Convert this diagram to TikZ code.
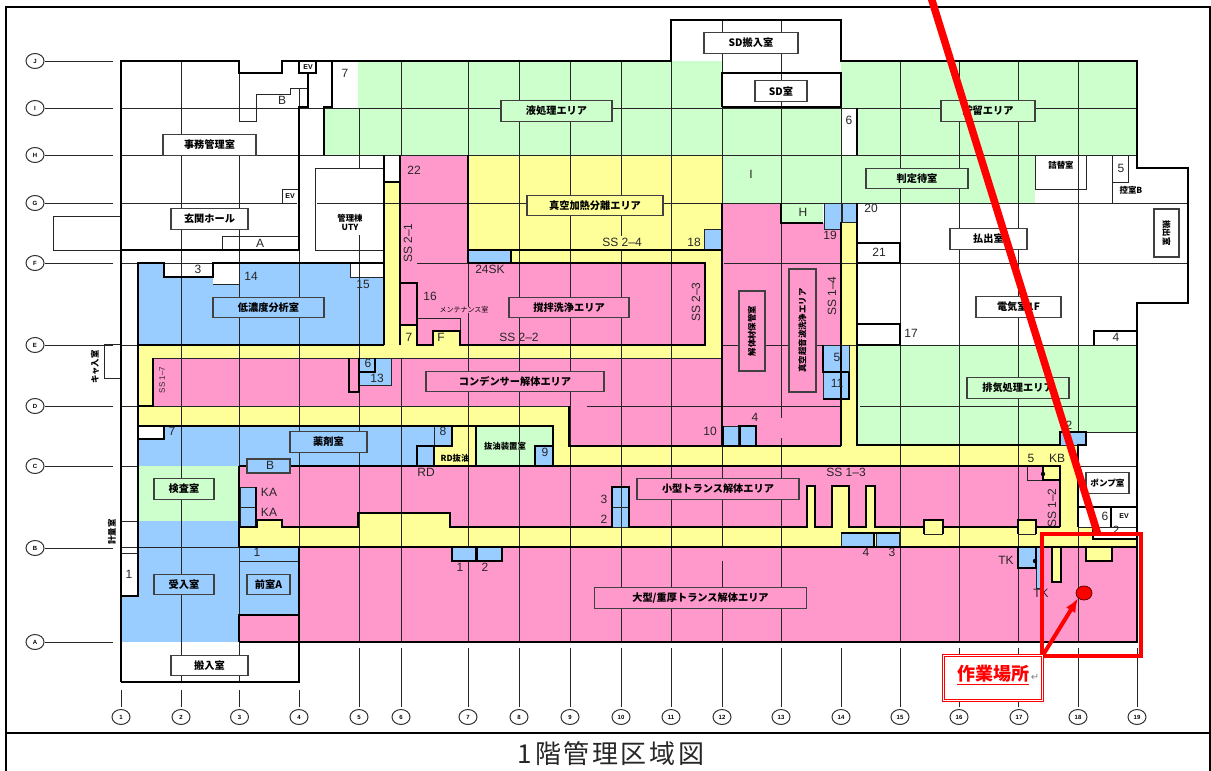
\documentclass[tikz,border=0pt]{standalone}
\usepackage{fontspec}
\setmainfont{Liberation Sans}
\newfontfamily\jpfont{Noto Sans CJK JP}
\usetikzlibrary{arrows.meta, shapes.geometric}
\definecolor{areapink}{HTML}{FF99CC}
\definecolor{areayellow}{HTML}{FFFF99}
\definecolor{areablue}{HTML}{99CCFF}
\definecolor{areagreen}{HTML}{CCFFCC}
\definecolor{workred}{HTML}{FF0000}

\begin{document}
\begin{tikzpicture}[
x=1pt, y=-1pt,
grid/.style={black!85, line width=0.9pt},
room/.style={black!85, line width=1pt},
wall/.style={black, line width=1.9pt, line join=miter},
bluebox/.style={fill=areablue, draw=black!85, line width=1pt},
roomlabel/.style={draw=black!75, line width=1.1pt, minimum height=20.5pt, inner sep=0pt,
  font=\jpfont\bfseries\fontsize{10.2}{11}\selectfont},
sidelabel/.style={inner sep=0pt, font=\jpfont\bfseries\fontsize{8.4}{9}\selectfont},
num/.style={inner sep=0pt, text=black!85, font=\fontsize{12}{13}\selectfont},
tag/.style={ellipse, draw=black!80, fill=white, line width=1pt, minimum width=18pt, minimum height=15pt,
  inner sep=0pt, font=\bfseries\fontsize{6}{7}\selectfont},
redarrow/.style={-{Latex[length=14pt, width=11pt]}, workred, line width=4pt}
]
\useasboundingbox (0,0) rectangle (1211,771);
\clip (0,0) rectangle (1211,771);

% frame and title
\draw[black, line width=1.6pt] (6,771) -- (6,7) -- (1210,7) -- (1210,771);
\draw[black, line width=1.6pt] (6,733) -- (1210,733);
\node[inner sep=0pt, text=black!85, font=\jpfont\fontsize{26}{28}\selectfont] (title) at (611,754) {1\kern2.6pt 階\kern2.6pt 管\kern2.6pt 理\kern2.6pt 区\kern2.6pt 域\kern2.6pt 図};

% areas
\foreach \a/\b/\c/\d in {358/61/671/108, 324/108/722/155, 671/61/722/108, 841/61/1137/155, 722/108/841/155, 722/155/1035/203, 781/203/823/223, 857/345/1137/432, 857/432/1060/445, 138/466/239/521, 477/427/553/466}
  \fill[areagreen] (\a,\b) rectangle (\c,\d);
\foreach \a/\b/\c/\d in {401/155/468/345, 468/263/705/345, 722/203/781/446, 781/223/841/446, 153/358/721/406, 569/406/722/446, 239/466/1060/527, 299/547/1137/642, 239/615/299/642}
  \fill[areapink] (\a,\b) rectangle (\c,\d);
\foreach \a/\b/\c/\d in {468/155/722/263, 705/263/722/345, 384/182/400/345, 138/345/722/358, 138/358/153/406, 138/406/569/426, 553/426/569/466, 434/426/476/466, 569/446/1078/466, 841/222/857/446, 1060/446/1078/547, 239/527/1060/547, 257/520/282/527, 358/513/450/527, 807/486/815/527, 832/486/849/527, 866/486/875/527, 924/520/943/527, 1018/520/1036/527, 1078/527/1137/547, 401/325/417/345, 433/331/460/345, 1052/547/1061/582, 1086/547/1112/561}
  \fill[areayellow] (\a,\b) rectangle (\c,\d);
\foreach \a/\b/\c/\d in {138/263/384/345, 138/426/434/466, 137/521/239/642, 121/596/137/642, 239/547/299/615}
  \fill[areablue] (\a,\b) rectangle (\c,\d);
\fill[white] (1093,527) rectangle (1137,539);
\fill[white] (164,263) rectangle (213,277);
\fill[white] (213,263) rectangle (239,284);
\fill[white] (350,263) rectangle (384,277);
\fill[white] (138,426) rectangle (164,439);
\fill[white] (722,73) rectangle (841,107);
\fill[white] (841,108) rectangle (857,155);
\fill[areayellow] (1027,466) rectangle (1060,480);
\fill[areapink] (1027,466) rectangle (1043,480);

% column and row lines
\foreach \x/\a/\b in {181/61/682, 239/61/121, 239/155/682, 299/250/547, 299/615/642, 359/108/168, 359/235/642, 401/61/155, 401/358/642, 468/61/155, 468/263/642, 519/61/642, 570/61/642, 621/61/236, 621/250/642, 671/61/642, 722/20/547, 722/561/642, 781/20/418, 781/438/642, 841/107/222, 900/61/642, 959/61/642, 1018/61/642, 1078/61/642,
  121/690/707, 181/690/707, 239/690/707, 299/690/707, 359/648/707, 401/648/707, 468/648/707, 519/648/707, 570/648/707, 621/648/707, 671/648/707, 722/648/707, 781/648/707, 841/648/707, 900/648/707, 959/648/707, 1018/648/707, 1078/648/707, 1137/648/707}
  \draw[grid] (\x,\a) -- (\x,\b);
\foreach \y/\a/\b in {108/121/1137, 155/121/1137, 203/121/297, 203/317/1188, 263/121/384, 263/417/468, 263/724/1188, 345/121/138, 345/722/1137, 406/121/138, 406/153/569, 406/587/841, 406/860/1137, 466/121/138, 466/1078/1137, 547/121/239, 358/153/721}
  \draw[grid] (\a,\y) -- (\b,\y);

% rooms in thin line
\draw[room] (239,121) -- (256,121) -- (256,94) -- (290,94) -- (290,88) -- (308,88);
\draw[room] (299,88) -- (299,107);
\draw[room] (282,203) -- (282,189) -- (298,189);
\draw[room] (222,250) -- (222,236) -- (298,236);
\draw[room] (121,216) -- (53,216) -- (53,250) -- (121,250);
\draw[room] (384,168) -- (315,168) -- (315,250) -- (384,250);
\draw[room] (1035,155) -- (1035,189) -- (1086,189) -- (1086,155);
\draw[room] (1112,155) -- (1112,203);
\draw[room] (1112,182) -- (1128,182) -- (1128,155);
\draw[room] (1035,203) -- (1111,203);
\draw[room] (1137,263) -- (1188,263);
\draw[room] (350,263) -- (350,277) -- (384,277);
\draw[room] (213,284) -- (239,284);
\draw[room] (121,521) -- (138,521);
\draw[room] (121,553) -- (138,553);
\draw[room] (239,561) -- (299,561);
\draw[room] (120,344) -- (104,344) -- (104,378) -- (120,378);
\draw[room] (417,318) -- (460,318) -- (460,331);
\draw[room] (1086,432) -- (1137,432);
\draw[room] (1078,527) -- (1137,527);
\draw[room] (1027,466) -- (1027,480) -- (1043,480);
\foreach \a/\b/\c/\d in {468/250/511/263, 704/229/721/250, 824/203/841/229, 842/203/857/222, 1060/432/1086/445, 723/426/738/446, 740/426/756/446, 823/345/849/372, 823/372/849/399, 359/358/391/385, 434/426/452/446, 417/446/434/466, 535/446/553/466, 240/487/256/507, 240/507/256/527, 612/487/629/507, 612/507/629/527, 841/533/873/547, 876/533/899/547, 452/547/476/561, 477/547/502/561, 1018/547/1036/568, 1036/547/1041/588}
  \draw[bluebox] (\a,\b) rectangle (\c,\d);
\draw[grid] (621,487) -- (621,527);
\draw[grid] (841,372) -- (841,399);
\draw[room] (924,534) -- (943,534);
\draw[room] (1018,534) -- (1036,534);

% walls
\draw[wall] (121,682) -- (121,61) -- (239,61) -- (239,73) -- (282,73) -- (282,61) -- (671,61) -- (671,20) -- (841,20) -- (841,61) -- (1137,61) -- (1137,168) -- (1188,168) -- (1188,303) -- (1137,303) -- (1137,642) -- (239,642);
\draw[wall] (121,682) -- (299,682) -- (299,615) -- (239,615) -- (239,642);
\draw[wall] (299,615) -- (299,547) -- (1137,547);
\draw[wall] (239,547) -- (299,547);
\draw[wall] (299,61) -- (299,73) -- (316,73) -- (316,61);
\draw[wall] (308,73) -- (308,107) -- (299,107) -- (299,250) -- (121,250);
\draw[wall] (332,61) -- (332,107) -- (324,107) -- (324,155);
\draw[wall] (722,107) -- (722,73) -- (841,73) -- (841,107) -- (722,107);
\draw[wall] (857,108) -- (857,155);
\draw[wall] (384,155) -- (384,345);
\draw[wall] (400,155) -- (400,345);
\draw[wall] (384,182) -- (400,182);
\draw[wall] (468,155) -- (468,263);
\draw[wall] (468,250) -- (722,250);
\draw[wall] (468,263) -- (705,263) -- (705,345) -- (460,345) -- (460,331) -- (433,331) -- (433,345) -- (417,345) -- (417,283) -- (400,283);
\draw[wall] (400,325) -- (417,325);
\draw[wall] (511,250) -- (511,263);
\draw[wall] (722,203) -- (722,446);
\draw[room] (722,155) -- (722,203);
\draw[wall] (781,203) -- (781,223) -- (823,223);
\draw[wall] (138,596) -- (138,263) -- (164,263) -- (164,277) -- (213,277) -- (213,263) -- (384,263);
\draw[wall] (121,596) -- (138,596) -- (138,553);
\draw[wall] (138,345) -- (384,345);
\draw[wall] (153,358) -- (153,406) -- (138,406);
\draw[wall] (138,426) -- (553,426) -- (553,466);
\draw[wall] (138,439) -- (164,439) -- (164,426);
\draw[wall] (569,406) -- (569,446) -- (841,446);
\draw[wall] (723,426) -- (723,446);
\draw[wall] (738,426) -- (756,426) -- (756,446);
\draw[wall] (740,426) -- (740,446);
\draw[wall] (841,222) -- (841,446);
\draw[wall] (857,203) -- (857,445) -- (1060,445) -- (1060,432) -- (1086,432) -- (1086,445) -- (1078,445) -- (1078,527);
\draw[wall] (857,243) -- (900,243) -- (900,263) -- (857,263);
\draw[wall] (857,324) -- (900,324) -- (900,345) -- (857,345);
\draw[wall] (1094,345) -- (1094,331) -- (1137,331);
\draw[wall] (823,345) -- (823,372) -- (849,372);
\draw[wall] (849,372) -- (849,399) -- (823,399);
\draw[wall] (349,358) -- (349,392) -- (359,392) -- (359,358);
\draw[wall] (359,372) -- (375,372) -- (375,358);
\draw[wall] (239,466) -- (1060,466) -- (1060,527);
\draw[wall] (239,466) -- (239,527) -- (257,527) -- (257,520) -- (282,520) -- (282,527) -- (358,527) -- (358,513) -- (450,513) -- (450,527) -- (612,527) -- (612,487) -- (629,487) -- (629,527) -- (807,527) -- (807,486) -- (815,486) -- (815,527) -- (832,527) -- (832,486) -- (849,486) -- (849,527) -- (866,527) -- (866,486) -- (875,486) -- (875,527) -- (924,527) -- (924,520) -- (943,520) -- (943,527) -- (1018,527) -- (1018,520) -- (1036,520) -- (1036,527) -- (1060,527);
\draw[wall] (924,520) -- (924,534);
\draw[wall] (943,520) -- (943,534);
\draw[wall] (1018,520) -- (1018,534);
\draw[wall] (1036,520) -- (1036,534);
\draw[wall] (239,547) -- (239,527);
\draw[wall] (239,615) -- (239,642);
\draw[wall] (247,466) -- (247,473) -- (290,473) -- (290,466);
\draw[wall] (256,487) -- (256,527);
\draw[wall] (452,426) -- (452,446) -- (434,446) -- (434,466);
\draw[wall] (417,466) -- (417,446) -- (434,446);
\draw[wall] (476,426) -- (476,466);
\draw[wall] (535,466) -- (535,446) -- (553,446);
\draw[wall] (452,547) -- (452,561) -- (476,561) -- (476,547);
\draw[wall] (477,547) -- (477,561) -- (502,561) -- (502,547);
\draw[wall] (841,533) -- (900,533);
\draw[wall] (874,533) -- (874,547);
\draw[wall] (1043,466) -- (1043,480) -- (1060,480);
\draw[wall] (1018,547) -- (1018,568) -- (1036,568) -- (1036,547);
\draw[wall] (1052,547) -- (1052,582) -- (1061,582) -- (1061,547);
\draw[wall] (1086,547) -- (1086,561) -- (1112,561) -- (1112,547);
\draw[wall] (1078,507) -- (1137,507);
\draw[wall] (1111,507) -- (1111,527);
\draw[wall] (1093,527) -- (1093,539) -- (1137,539);

% dots
\fill (1043,474) circle (2.2pt);
\fill (1035,561) circle (2.2pt);

% room labels
\foreach \x/\y/\w/\c/\t [count=\i] in {751/43/94/white/SD搬入室, 781/91/52/white/SD室, 556.5/111/111/areagreen/液処理エリア, 988/111/94/areagreen/貯留エリア, 209.5/145/93/white/事務管理室, 209.5/219/77/white/玄関ホール, 595/205.5/136/areayellow/真空加熱分離エリア, 917/178.5/102/areagreen/判定待室, 988.5/239/77/white/払出室, 1018.5/307/85/white/電気室1F, 268.5/307.5/111/areablue/低濃度分析室, 569/307.5/120/areapink/撹拌洗浄エリア, 515/381.5/178/areapink/コンデンサー解体エリア, 1018/388/102/areagreen/排気処理エリア, 328.5/442/77/areablue/薬剤室, 184/489/60/areagreen/検査室, 718/489/162/areapink/小型トランス解体エリア, 184/584.5/60/areablue/受入室, 268.5/584.5/43/areablue/前室A, 209.5/665.5/77/white/搬入室, 700.5/598/212/areapink/{大型/重厚トランス解体エリア}}
  \node[roomlabel, fill=\c, minimum width=\w pt] (room\i) at (\x,\y) {\t};
\node[roomlabel, fill=white, minimum width=43pt, font=\jpfont\bfseries\fontsize{8.6}{9}\selectfont] (roompump) at (1107.5,483) {ポンプ室};
\node[roomlabel, fill=areablue, minimum width=43pt, minimum height=14pt] (roomB) at (268.5,466) {};
\node[roomlabel, fill=areapink, minimum width=26pt, minimum height=80pt] (roomdis) at (752,331) {};
\node[roomlabel, fill=areapink, minimum width=27pt, minimum height=123pt] (roomvac) at (802.5,330.5) {};
\node[roomlabel, fill=white, minimum width=25pt, minimum height=48pt] (roomout) at (1166.5,233) {};
\node[sidelabel, rotate=90] (txtdis) at (roomdis) {解体材保管室};
\node[sidelabel, rotate=90] (txtvac) at (roomvac) {真空超音波洗浄エリア};
\node[sidelabel, rotate=-90] (txtout) at (roomout) {搬出室};
\node[sidelabel, rotate=90] (txtcask) at (95,367) {キャ入室};
\node[sidelabel, rotate=90] (txtmeas) at (112,532) {計量室};
\node[sidelabel, align=center, fill=white, inner sep=1pt] (txtuty) at (350,222) {管理棟\\UTY};
\node[sidelabel, fill=areagreen] (txtoil) at (505,446) {抜油装置室};
\node[sidelabel] (txtrd) at (455,458) {RD抜油};
\node[sidelabel, font=\jpfont\fontsize{7}{8}\selectfont, fill=areapink] (txtmnt) at (464,310) {メンテナンス室};
\node[sidelabel] (txtfill) at (1061,165) {詰替室};
\node[sidelabel] (txtctl) at (1131,190) {控室B};
\node[sidelabel, font=\bfseries\fontsize{7}{8}\selectfont] (txtev1) at (308,67) {EV};
\node[sidelabel, font=\bfseries\fontsize{7}{8}\selectfont] (txtev2) at (290,196) {EV};
\node[sidelabel, font=\bfseries\fontsize{7}{8}\selectfont] (txtev3) at (1124,516) {EV};

% numbers and codes
\foreach \t/\x/\y [count=\i] in {7/345/73, 22/414/170, 6/849/120, I/751/174, H/803/212, 18/694/242, 19/830/235, 20/871/208, 21/879/252, 5/1121/168, 24SK/490/269, 16/430/296, 3/198/269, 14/251/276, 15/363/284, 7/409/337, F/441/337, 6/368/363, 13/377/378, 17/911/333, 4/1116/337, 7/172/431, 8/443/431, 9/545/452, RD/426/472, B/270/465, KA/269/492, KA/269/512, 3/604/499, 2/604/519, 10/710/431, 4/755/417, 5/837/357, 11/837/383, 2/1069/425, 5/1031/458, KB/1057/458, 1/460/567, 2/485/567, 4/866/552, 3/892/552, TK/1006/560, TK/1041/593, 1/129/574, 1/257/552, 6/1105/516, 2/1116/530, A/260/243, B/282/100, {SS 2–4}/622/242, {SS 2–2}/519/337, {SS 1–3}/846/472}
  \node[num] (n\i) at (\x,\y) {\t};
\node[num, rotate=90] (ss21) at (408,243) {SS 2–1};
\node[num, rotate=90] (ss23) at (696,302) {SS 2–3};
\node[num, rotate=90] (ss14) at (832,296) {SS 1–4};
\node[num, rotate=90] (ss12) at (1052,508) {SS 1–2};
\node[num, rotate=90, font=\fontsize{8}{9}\selectfont] (ss17) at (162,380) {SS 1–7};

% row and column tags
\foreach \n/\y in {J/61, I/108, H/155, G/203, F/263, E/345, D/406, C/466, B/548, A/642} {
  \node[tag] (tag\n) at (35,\y) {\n};
  \coordinate (end\n) at (113,\y);
  \draw[grid] (tag\n) -- (end\n);
}
\foreach \n/\x in {1/121, 2/181, 3/239.5, 4/299, 5/359, 6/401, 7/468, 8/519, 9/570, 10/621, 11/671, 12/722, 13/781, 14/841, 15/900, 16/959, 17/1019, 18/1078, 19/1137}
  \node[tag] (col\n) at (\x,717) {\n};

% work place marking
\coordinate (linetop) at (930,-6);
\coordinate (lineend) at (1098,535);
\node[draw=workred, line width=4pt, minimum width=99pt, minimum height=122pt, inner sep=0pt] (workarea) at (1091.5,595) {};
\draw[workred, line width=7.5pt] (linetop) -- (lineend);
\node[draw=workred, fill=white, double=white, double distance=1.2pt, line width=1.1pt, minimum width=99pt, minimum height=45pt, inner sep=0pt] (worklabel) at (993,678) {};
\node[inner sep=0pt, text=workred, font=\jpfont\bfseries\fontsize{18}{20}\selectfont] (worktext) at (993,675) {\underline{作業場所}};
\node[inner sep=0pt, text=black!50, font=\fontsize{10}{11}\selectfont] (workret) at (1035,677) {\fontspec{DejaVu Sans}↵};
\node[ellipse, fill=workred, draw=black!60!red, line width=0.8pt, minimum width=16pt, minimum height=14pt, inner sep=0pt] (workdot) at (1084,593) {};
\draw[redarrow] (worklabel.north east) -- (workdot.south west);
\end{tikzpicture}
\end{document}
